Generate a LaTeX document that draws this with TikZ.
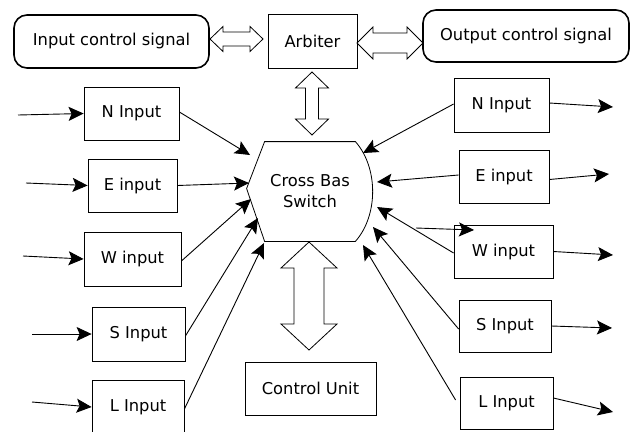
\documentclass[tikz,border=0pt]{standalone}
\usepackage{fontspec}
\setmainfont{DejaVu Sans}
\usetikzlibrary{arrows.meta,calc}

% hollow double arrow, horizontal: left tip, right tip, half shaft, half head, head length
\newcommand{\hfat}[5]{%
  \draw[fat] (#1) -- ([shift={(#5,-#4)}]#1) -- ([shift={(#5,-#3)}]#1)
    -- ([shift={(-#5,-#3)}]#2) -- ([shift={(-#5,-#4)}]#2) -- (#2)
    -- ([shift={(-#5,#4)}]#2) -- ([shift={(-#5,#3)}]#2)
    -- ([shift={(#5,#3)}]#1) -- ([shift={(#5,#4)}]#1) -- cycle;}
% hollow double arrow, vertical: top tip, bottom tip, half shaft, half head, head length
\newcommand{\vfat}[5]{%
  \draw[fat] (#1) -- ([shift={(#4,#5)}]#1) -- ([shift={(#3,#5)}]#1)
    -- ([shift={(#3,-#5)}]#2) -- ([shift={(#4,-#5)}]#2) -- (#2)
    -- ([shift={(-#4,-#5)}]#2) -- ([shift={(-#3,-#5)}]#2)
    -- ([shift={(-#3,#5)}]#1) -- ([shift={(-#4,#5)}]#1) -- cycle;}

\begin{document}
\begin{tikzpicture}[x=1pt,y=-1pt,
  box/.style={draw,line width=0.8pt,inner sep=0pt,align=center,
    font=\fontsize{16.3}{21}\selectfont},
  pill/.style={box,line width=1.6pt,rounded corners=13pt},
  link/.style={line width=0.9pt,-{Stealth[length=15pt,width=14pt,inset=3pt]}},
  fat/.style={line width=0.8pt,fill=white,line join=miter}]
\useasboundingbox (0,0) rectangle (636,431);

% top row
\node[pill,minimum width=195pt,minimum height=53pt] (ics) at (111.5,41.5) {Input control signal};
\node[box,minimum width=89pt,minimum height=54pt] (arb) at (312.5,41) {Arbiter};
\node[pill,minimum width=206pt,minimum height=52pt] (ocs) at (526,36) {Output control signal};

% crossbar switch
\node[box,draw=none,minimum width=90pt,minimum height=99pt] (cb) at (310,191.5) {Cross Bas\\Switch};
\draw[line width=0.8pt] (cb.north west) -- (cb.north east)
  .. controls ($(cb.north east)+(23,26)$) and ($(cb.south east)+(23,-26)$) .. (cb.south east)
  -- (cb.south west) -- ($(cb.west)+(-18,-3)$) -- cycle;

% control unit
\node[box,minimum width=131pt,minimum height=53pt] (cu) at (310.5,388.5) {Control Unit};

% input ports
\node[box,minimum width=95pt,minimum height=53pt] (lN) at (131.5,113.5) {N Input};
\node[box,minimum width=89pt,minimum height=53pt] (lE) at (132.5,185.5) {E input};
\node[box,minimum width=97pt,minimum height=54pt] (lW) at (132.5,259) {W input};
\node[box,minimum width=93pt,minimum height=54pt] (lS) at (138.5,334) {S Input};
\node[box,minimum width=92pt,minimum height=54pt] (lL) at (138,407) {L Input};

% output ports
\node[box,minimum width=95pt,minimum height=54pt] (rN) at (501.5,105) {N Input};
\node[box,minimum width=90pt,minimum height=53pt] (rE) at (504,176.5) {E input};
\node[box,minimum width=99pt,minimum height=53pt] (rW) at (503.5,251.5) {W input};
\node[box,minimum width=92pt,minimum height=52pt] (rS) at (505,326) {S Input};
\node[box,minimum width=93pt,minimum height=52pt] (rL) at (506.5,403) {L Input};

% hollow double arrows
\coordinate (fa1) at (210,39);  \coordinate (fa2) at (263,39);
\coordinate (fb1) at (357,43);  \coordinate (fb2) at (423,43);
\coordinate (fc1) at (312,72);  \coordinate (fc2) at (312,135);
\coordinate (fd1) at (309,242); \coordinate (fd2) at (309,350);
\hfat{fa1}{fa2}{7}{12.5}{13}
\hfat{fb1}{fb2}{10}{16}{16}
\vfat{fc1}{fc2}{6.5}{16.5}{16}
\vfat{fd1}{fd2}{15}{28}{26}

% incoming lines
\coordinate (iN) at (18,115);
\coordinate (iE) at (26,183);
\coordinate (iW) at (23,256);
\coordinate (iS) at (32,334);
\coordinate (iL) at (32,402);
\draw[link] (iN) -- (lN.west);
\draw[link] (iE) -- (lE.west);
\draw[link] (iW) -- (lW.west);
\draw[link] (iS) -- (lS.west);
\draw[link] (iL) -- (lL.west);

% input ports into the switch
\coordinate (xN) at (250,155);
\coordinate (xE) at (249,183);
\coordinate (xW) at (251,199);
\coordinate (xS) at (258,218);
\coordinate (xL) at (264,243);
\draw[link] ([yshift=1.5pt]lN.east) -- (xN);
\draw[link] (lE.east) -- (xE);
\draw[link] ([yshift=-2pt]lW.east) -- (xW);
\draw[link] ([yshift=-2pt]lS.east) -- (xS);
\draw[link] ([yshift=-2pt]lL.east) -- (xL);

% output ports into the switch
\coordinate (yN) at (363,153);
\coordinate (yE) at (377,182);
\coordinate (yW) at (377,207);
\coordinate (yS) at (373,227);
\coordinate (yL) at (363,245);
\draw[link] ([yshift=1pt]rN.west) -- (yN);
\draw[link] ([yshift=1.5pt]rE.west) -- (yE);
\draw[link] ([yshift=-1.5pt]rW.west) -- (yW);
\draw[link] ([yshift=-3pt]rS.west) -- (yS);
\draw[link] ([shift={(-4pt,3pt)}]rL.west) -- (yL);
\coordinate (wa) at (416,228);
\coordinate (wb) at (474,230);
\draw[link] (wa) -- (wb);

% outgoing lines
\coordinate (oN) at (613,107);
\coordinate (oE) at (609,174);
\coordinate (oW) at (613,255);
\coordinate (oS) at (612,328);
\coordinate (oL) at (613,412);
\draw[link] ([yshift=2pt]rN.east) -- (oN);
\draw[link] ([yshift=-3pt]rE.east) -- (oE);
\draw[link] (rW.east) -- (oW);
\draw[link] (rS.east) -- (oS);
\draw[link] ([yshift=5pt]rL.east) -- (oL);
\end{tikzpicture}
\end{document}
